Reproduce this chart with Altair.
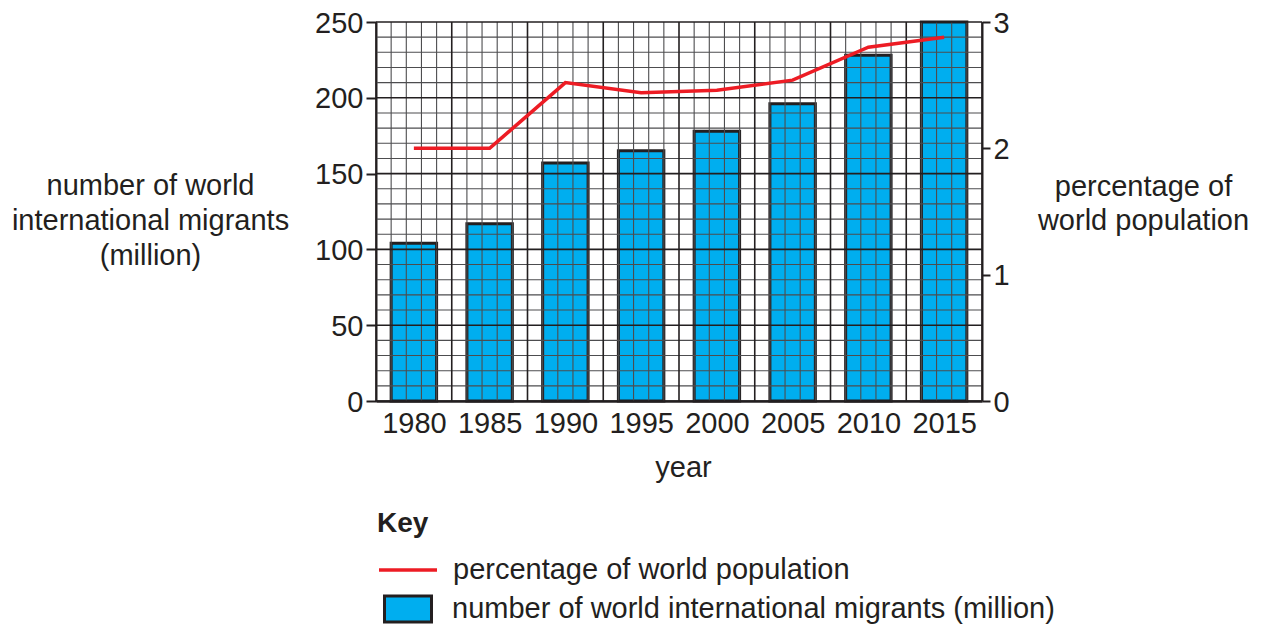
import altair as alt
import pandas as pd

years = [1980, 1985, 1990, 1995, 2000, 2005, 2010, 2015]
migrants = [104, 117, 157, 165, 178, 196, 228, 250]
percent = [2.0, 2.0, 2.52, 2.44, 2.46, 2.54, 2.80, 2.88]

y_left_ticks = [0, 50, 100, 150, 200, 250]
y_right_ticks = [0, 1, 2, 3]
grid_h = list(range(0, 251, 10))
grid_v = [1977.5 + k for k in range(41)]

LINE_LABEL = "percentage of world population"
BAR_LABEL = "number of world international migrants (million)"

FONT = "Liberation Sans"
INK = "#231F20"
BLUE = "#00AEEF"
RED = "#ED1C24"
MINOR = "#4d4d4f"

df = pd.DataFrame({"year": years, "migrants": migrants, "percent": percent})
gh = pd.DataFrame({"gy": grid_h})
gh["major"] = gh["gy"] % 50 == 0
gv = pd.DataFrame({"gx": grid_v})
gv["major"] = ((gv["gx"] - 1977.5) % 5) == 0

xscale = alt.Scale(domain=[1977.5, 2017.5], nice=False, zero=False)
xaxis = alt.Axis(values=years, format="d", ticks=False, tickSize=0, labelPadding=8,
                 labelFlush=False, labelOverlap=False, grid=False,
                 domainColor=INK, domainWidth=2.5, title="year",
                 titleX=307, titleY=75, titleBaseline="alphabetic",
                 titleAnchor="start", titleAlign="center")
yscale_l = alt.Scale(domain=[0, 250], nice=False, zero=True)
yscale_r = alt.Scale(domain=[0, 3], nice=False, zero=True)

bars = alt.Chart(df).transform_calculate(
    x0="datum.year - 1.5", x1="datum.year + 1.5", series=f"'{BAR_LABEL}'"
).mark_bar(stroke=INK, strokeWidth=3).encode(
    x=alt.X("x0:Q", scale=xscale, axis=xaxis),
    x2="x1:Q",
    y=alt.Y("migrants:Q", scale=yscale_l,
            axis=alt.Axis(orient="left", values=y_left_ticks, tickSize=10, tickWidth=2,
                          tickColor=INK, domainColor=INK, domainWidth=2, labelPadding=3,
                          labelOffset=1, labelFlush=False, grid=False,
                          title=["number of world", "international migrants", "(million)"],
                          titleAngle=0, titleAlign="center", titleBaseline="alphabetic",
                          titleX=-226, titleY=172, titleLineHeight=35, titleAnchor="start")),
    y2=alt.datum(0),
    fill=alt.Fill("series:N", scale=alt.Scale(domain=[BAR_LABEL], range=[BLUE]),
                  legend=alt.Legend(orient="none", legendX=7, legendY=562, title=None,
                                    symbolType="M-1,-0.55H1V0.55H-1Z", symbolSize=2209,
                                    symbolStrokeColor=INK, symbolStrokeWidth=3,
                                    labelOffset=19, padding=0)),
)

def hgrid(major):
    return alt.Chart(gh).transform_filter(
        "datum.major" if major else "!datum.major"
    ).mark_rule(color=INK if major else MINOR, strokeWidth=1.6 if major else 1.1).encode(
        x=alt.datum(1977.5, scale=xscale, axis=xaxis, type="quantitative"),
        x2=alt.datum(2017.5),
        y=alt.Y("gy:Q", scale=yscale_l, axis=None),
    )

def vgrid(major):
    return alt.Chart(gv).transform_filter(
        "datum.major" if major else "!datum.major"
    ).mark_rule(color=INK if major else MINOR, strokeWidth=1.6 if major else 1.1).encode(
        x=alt.X("gx:Q", scale=xscale, axis=xaxis),
        y=alt.datum(0, scale=yscale_l, axis=None, type="quantitative"),
        y2=alt.datum(250),
    )

line = alt.Chart(df).mark_line(strokeWidth=3.5).transform_calculate(
    series=f"'{LINE_LABEL}'"
).encode(
    x=alt.X("year:Q", scale=xscale, axis=xaxis),
    y=alt.Y("percent:Q", scale=yscale_r,
            axis=alt.Axis(orient="right", values=y_right_ticks, tickSize=8, tickWidth=2,
                          tickColor=INK, domainColor=INK, domainWidth=2, labelPadding=3,
                          labelOffset=1, labelFlush=False, grid=False,
                          title=["percentage of", "world population"],
                          titleAngle=0, titleAlign="center", titleBaseline="alphabetic",
                          titleX=161, titleY=173, titleLineHeight=34, titleAnchor="start")),
    stroke=alt.Stroke("series:N", scale=alt.Scale(domain=[LINE_LABEL], range=[RED]),
                      legend=alt.Legend(orient="none", legendX=1, legendY=488, title="Key",
                                        symbolType="stroke", symbolSize=3364,
                                        symbolStrokeWidth=3.5, labelOffset=14, padding=0,
                                        titlePadding=1)),
)

chart = alt.layer(
    bars, hgrid(False), vgrid(False), hgrid(True), vgrid(True), line
).resolve_scale(y="independent").properties(
    width=606, height=379,
    padding={"left": 368, "top": 14, "right": 270, "bottom": 232},
    autosize=alt.AutoSizeParams(type="none"),
).configure_view(stroke=None).configure_axis(
    labelFont=FONT, labelFontSize=29, labelColor=INK,
    titleFont=FONT, titleFontSize=29, titleColor=INK, titleFontWeight="normal",
).configure_legend(
    labelFont=FONT, labelFontSize=29, labelColor=INK, labelLimit=0,
    titleFont=FONT, titleFontSize=28, titleColor=INK, titleFontWeight="bold",
)

chart.save("out.html", embed_options={"renderer": "svg", "actions": False})
